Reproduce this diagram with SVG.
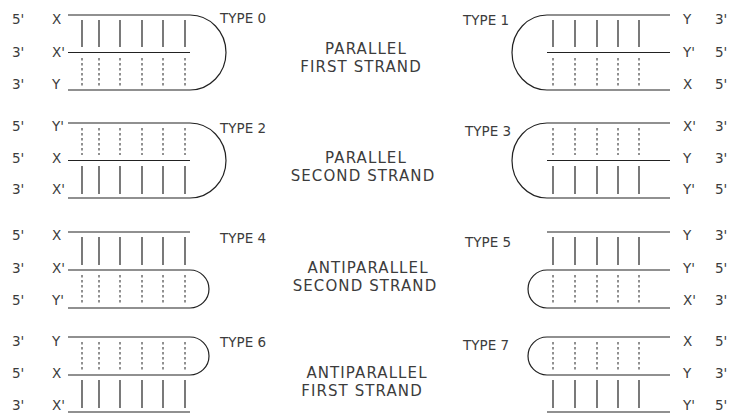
<svg xmlns="http://www.w3.org/2000/svg" width="729" height="414" viewBox="0 0 729 414">
<style>
text{font-family:"DejaVu Sans","Liberation Sans",sans-serif;fill:#3c3c3c;font-size:13.5px}
.c{font-size:15px;text-anchor:middle;letter-spacing:1.1px}
.s{stroke:#222;stroke-width:1.2;fill:none}
.d{stroke:#222;stroke-width:1;fill:none;stroke-dasharray:2.5,2.5}
</style>
<rect width="729" height="414" fill="#fff"/>
<g id="connectors">
<path class="s" d="M68,15H190A36,37.5 0 0 1 190,90H68M68,52.5H190"/>
<path class="s" d="M82,20V47M99,20V47M120,20V47M142,20V47M163,20V47M185,20V47"/>
<path class="d" d="M82,58V86M99,58V86M120,58V86M142,58V86M163,58V86M185,58V86"/>
<path class="s" d="M670,15H547A35,37.5 0 0 0 547,90H670M670,52.5H547"/>
<path class="s" d="M553,20V47M575,20V47M597,20V47M618,20V47M639,20V47"/>
<path class="d" d="M553,58V86M575,58V86M597,58V86M618,58V86M639,58V86"/>
<path class="s" d="M68,123H190A36,37.5 0 0 1 190,198H68M68,160.5H190"/>
<path class="d" d="M82,128V155M99,128V155M120,128V155M142,128V155M163,128V155M185,128V155"/>
<path class="s" d="M82,166V194M99,166V194M120,166V194M142,166V194M163,166V194M185,166V194"/>
<path class="s" d="M670,123H547A35,37.5 0 0 0 547,198H670M670,160.5H547"/>
<path class="d" d="M553,128V155M575,128V155M597,128V155M618,128V155M639,128V155"/>
<path class="s" d="M553,166V194M575,166V194M597,166V194M618,166V194M639,166V194"/>
<path class="s" d="M68,232H190M68,270H190A19,19 0 0 1 190,308H68"/>
<path class="s" d="M82,237V265M99,237V265M120,237V265M142,237V265M163,237V265M185,237V265"/>
<path class="d" d="M82,275V303M99,275V303M120,275V303M142,275V303M163,275V303M185,275V303"/>
<path class="s" d="M670,232H547M670,270H547A19,19 0 0 0 547,308H670"/>
<path class="s" d="M553,237V265M575,237V265M597,237V265M618,237V265M639,237V265"/>
<path class="d" d="M553,275V303M575,275V303M597,275V303M618,275V303M639,275V303"/>
<path class="s" d="M68,337H190A19,19 0 0 1 190,375H68M68,412H190"/>
<path class="d" d="M82,342V370M99,342V370M120,342V370M142,342V370M163,342V370M185,342V370"/>
<path class="s" d="M82,380V408M99,380V408M120,380V408M142,380V408M163,380V408M185,380V408"/>
<path class="s" d="M670,337H547A19,19 0 0 0 547,375H670M670,412H547"/>
<path class="d" d="M553,342V370M575,342V370M597,342V370M618,342V370M639,342V370"/>
<path class="s" d="M553,380V408M575,380V408M597,380V408M618,380V408M639,380V408"/>
</g>
<g id="type0">
<text x="12" y="24">5'</text><text x="52" y="24">X</text>
<text x="12" y="57">3'</text><text x="52" y="57">X'</text>
<text x="12" y="89">3'</text><text x="52" y="89">Y</text>
<text x="220" y="23">TYPE 0</text>
</g>
<g id="type1">
<text x="683" y="24">Y</text><text x="715" y="24">3'</text>
<text x="683" y="57">Y'</text><text x="715" y="57">5'</text>
<text x="683" y="89">X</text><text x="715" y="89">5'</text>
<text x="463" y="25">TYPE 1</text>
</g>
<g id="type2">
<text x="12" y="131">5'</text><text x="52" y="131">Y'</text>
<text x="12" y="163">5'</text><text x="52" y="163">X</text>
<text x="12" y="194">3'</text><text x="52" y="194">X'</text>
<text x="220" y="133">TYPE 2</text>
</g>
<g id="type3">
<text x="683" y="131">X'</text><text x="715" y="131">3'</text>
<text x="683" y="163">Y</text><text x="715" y="163">3'</text>
<text x="683" y="194">Y'</text><text x="715" y="194">5'</text>
<text x="465" y="136">TYPE 3</text>
</g>
<g id="type4">
<text x="12" y="240">5'</text><text x="52" y="240">X</text>
<text x="12" y="273">3'</text><text x="52" y="273">X'</text>
<text x="12" y="305">5'</text><text x="52" y="305">Y'</text>
<text x="220" y="243">TYPE 4</text>
</g>
<g id="type5">
<text x="683" y="240">Y</text><text x="715" y="240">3'</text>
<text x="683" y="273">Y'</text><text x="715" y="273">5'</text>
<text x="683" y="305">X'</text><text x="715" y="305">3'</text>
<text x="465" y="247">TYPE 5</text>
</g>
<g id="type6">
<text x="12" y="346">3'</text><text x="52" y="346">Y</text>
<text x="12" y="378">5'</text><text x="52" y="378">X</text>
<text x="12" y="410">3'</text><text x="52" y="410">X'</text>
<text x="220" y="347">TYPE 6</text>
</g>
<g id="type7">
<text x="683" y="346">X</text><text x="715" y="346">5'</text>
<text x="683" y="378">Y</text><text x="715" y="378">3'</text>
<text x="683" y="410">Y'</text><text x="715" y="410">5'</text>
<text x="463" y="350">TYPE 7</text>
</g>
<g id="captions">
<text class="c" x="366" y="54">PARALLEL</text>
<text class="c" x="361" y="72">FIRST STRAND</text>
<text class="c" x="366" y="163">PARALLEL</text>
<text class="c" x="363" y="181">SECOND STRAND</text>
<text class="c" x="368" y="273">ANTIPARALLEL</text>
<text class="c" x="365" y="291">SECOND STRAND</text>
<text class="c" x="367" y="378">ANTIPARALLEL</text>
<text class="c" x="362" y="396">FIRST STRAND</text>
</g>
</svg>
